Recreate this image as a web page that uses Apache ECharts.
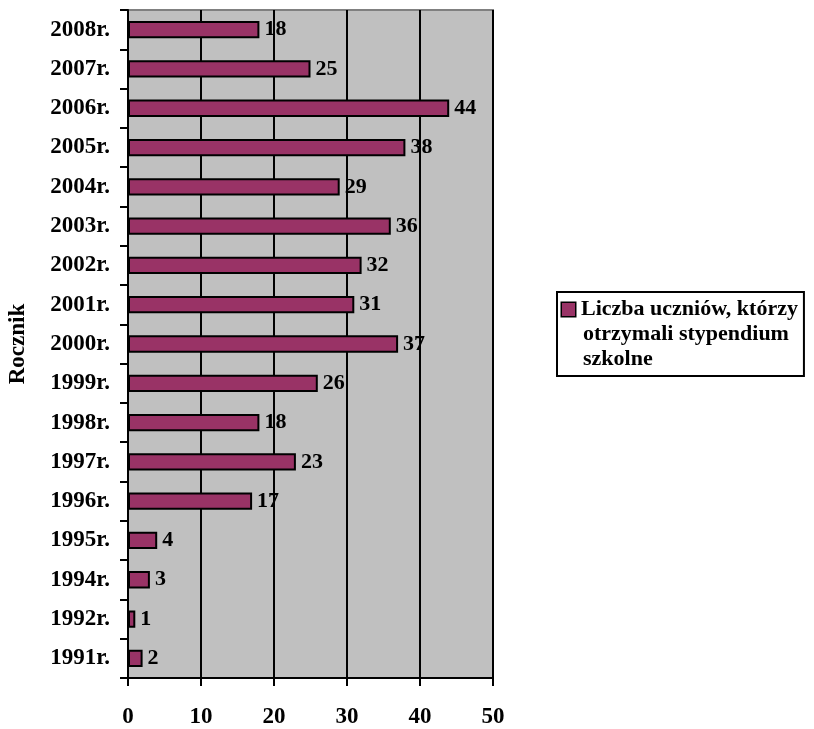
<!DOCTYPE html>
<html><head><meta charset="utf-8">
<script src="https://cdn.jsdelivr.net/npm/echarts@6/dist/echarts.min.js"></script>
<style>html,body{margin:0;padding:0;background:#fff}#c{width:814px;height:729px}</style>
</head><body><div id="c"></div>
<script>
var categories = ['1991r.','1992r.','1994r.','1995r.','1996r.','1997r.','1998r.','1999r.','2000r.','2001r.','2002r.','2003r.','2004r.','2005r.','2006r.','2007r.','2008r.'];
var values = [2,1,3,4,17,23,18,26,37,31,32,36,29,38,44,25,18];
var seriesName = 'Liczba uczniów, którzy otrzymali stypendium szkolne';
var legendLines = ['Liczba uczniów, którzy','otrzymali stypendium','szkolne'];
var axisName = 'Rocznik';
var xTicks = {min:0, max:50, interval:10};

var FONT = 'Liberation Serif';
var FS = 22;
var AFS = 23;
var BAR = '#993366';
var chart = echarts.init(document.getElementById('c'), null, {renderer:'canvas'});
chart.setOption({
  animation:false,
  textStyle:{fontFamily:FONT, fontWeight:'bold', color:'#000'},
  grid:{left:128, right:321, top:10, bottom:47, show:true, backgroundColor:'#C0C0C0', borderColor:'#808080', borderWidth:2},
  legend:{
    show:true, left:557, top:292, orient:'vertical',
    borderColor:'#000', borderWidth:2, padding:[5,6,4,0],
    itemWidth:0, itemHeight:1, itemGap:0,
    icon:'rect',
    itemStyle:{color:'rgba(0,0,0,0)', borderWidth:0, borderColor:'rgba(0,0,0,0)'},
    formatter:function(){
      return legendLines.map(function(l,i){
        return (i===0 ? '{sq|}{gap|}' : '{ind|}') + '{t|' + l + '}';
      }).join('\n');
    },
    textStyle:{
      fontFamily:FONT, fontWeight:'bold', fontSize:FS, color:'#000', lineHeight:25,
      rich:{
        sq:{width:13, height:13, backgroundColor:BAR, borderColor:'#000', borderWidth:1.5},
        gap:{width:6, height:13},
        ind:{width:21, height:13},
        t:{fontFamily:FONT, fontWeight:'bold', fontSize:FS, color:'#000', lineHeight:25}
      }
    },
    data:[seriesName]
  },
  xAxis:{
    type:'value', min:xTicks.min, max:xTicks.max, interval:xTicks.interval,
    axisLine:{show:true, lineStyle:{color:'#000', width:2}},
    axisTick:{show:true, length:8, lineStyle:{color:'#000', width:2}},
    splitLine:{show:true, lineStyle:{color:'#000', width:2}},
    axisLabel:{fontFamily:FONT, fontWeight:'bold', fontSize:AFS, color:'#000', margin:28}
  },
  yAxis:{
    type:'category', data:categories,
    name:axisName, nameLocation:'middle', nameGap:98,
    nameTextStyle:{fontFamily:FONT, fontWeight:'bold', fontSize:AFS, color:'#000'},
    axisLine:{show:true, lineStyle:{color:'#000', width:2}},
    axisTick:{show:true, length:8, alignWithLabel:false, lineStyle:{color:'#000', width:2}},
    axisLabel:{fontFamily:FONT, fontWeight:'bold', fontSize:AFS, color:'#000', margin:18},
    splitLine:{show:false}
  },
  series:[{
    type:'bar', name:seriesName, data:values,
    barCategoryGap:'56%',
    itemStyle:{color:BAR, borderColor:'#000', borderWidth:2},
    label:{show:true, position:'right', distance:5, fontFamily:FONT, fontWeight:'bold', fontSize:FS, color:'#000'}
  }]
});
</script></body></html>
